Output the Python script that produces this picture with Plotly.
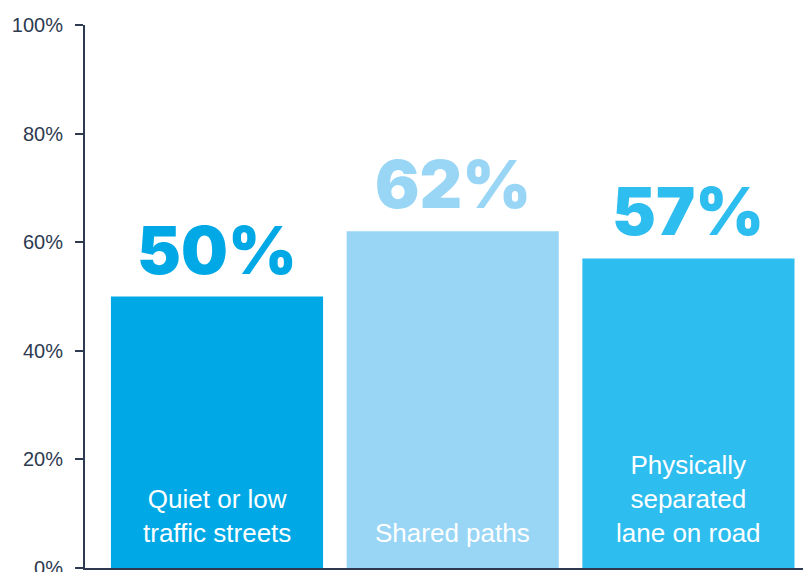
import plotly.graph_objects as go

# 数据
categories = ["Quiet or low<br>traffic streets", "Shared paths", "Physically<br>separated<br>lane on road"]
values = [50, 62, 57]
bar_colors = ["#00a9e6", "#99d6f6", "#2ebdef"]
tick_vals = [0, 20, 40, 60, 80, 100]
tick_text = ["0%", "20%", "40%", "60%", "80%", "100%"]

axis_color = "#2d3a50"
x_pos = list(range(len(categories)))

fig = go.Figure()

fig.add_trace(go.Bar(
    x=x_pos,
    y=values,
    width=0.9,
    marker=dict(color=bar_colors, line=dict(width=0)),
    showlegend=False,
    hoverinfo="skip",
))

# 柱顶的大号百分比
for xi, v, c in zip(x_pos, values, bar_colors):
    fig.add_annotation(
        x=xi, y=v, xref="x", yref="y",
        text=f"{v}%",
        showarrow=False,
        yanchor="bottom",
        yshift=5,
        font=dict(family="Inter, Lato, sans-serif", size=66, color=c, weight=900),
    )

# 柱内底部的类别文字
for xi, cat in zip(x_pos, categories):
    fig.add_annotation(
        x=xi, y=0, xref="x", yref="y",
        text=cat,
        showarrow=False,
        yanchor="bottom",
        yshift=18,
        font=dict(family="'Liberation Sans', Arial, sans-serif", size=26, color="white"),
    )

# 页面 body 有 8px 边距，所以整体尺寸减 8
fig.update_layout(
    width=803,
    height=564,
    margin=dict(l=77, r=0, t=17, b=4),
    plot_bgcolor="white",
    paper_bgcolor="white",
    xaxis=dict(
        range=[-0.56, 2.52],
        showticklabels=False,
        showgrid=False,
        zeroline=False,
        showline=True,
        linecolor=axis_color,
        linewidth=2,
        ticks="",
        automargin=False,
    ),
    yaxis=dict(
        range=[0, 100],
        tickvals=tick_vals,
        ticktext=tick_text,
        showgrid=False,
        zeroline=False,
        showline=True,
        linecolor=axis_color,
        linewidth=2,
        ticks="outside",
        ticklen=8,
        tickwidth=2,
        tickcolor=axis_color,
        ticklabelstandoff=8,
        ticklabeloverflow="allow",
        tickfont=dict(family="'Liberation Sans', Arial, sans-serif", size=20, color=axis_color),
        automargin=False,
    ),
)

fig.write_html("out.html")
